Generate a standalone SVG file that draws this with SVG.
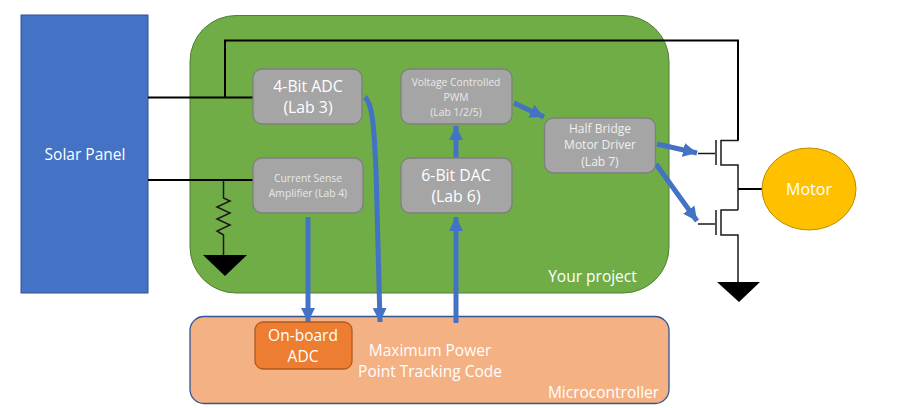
<svg xmlns="http://www.w3.org/2000/svg" width="897" height="408" viewBox="0 0 897 408">
<defs>
<marker id="ah" markerUnits="userSpaceOnUse" markerWidth="15" markerHeight="15" refX="14" refY="7.500" orient="auto"><path d="M0 0.500L14 7.500L0 14.500Z" fill="#4472c4"/></marker>
</defs>
<style>
text{font-family:"Open Sans","Noto Sans",sans-serif;text-anchor:middle;fill:#fff}
.b{fill:#a5a5a5;stroke:#7f7f7f;stroke-width:1.3}
.w{fill:none;stroke:#000;stroke-width:2}
.t{fill:none;stroke:#1a1a1a;stroke-width:1.5}
.a{fill:none;stroke:#4472c4;stroke-width:5;marker-end:url(#ah)}
.g{fill:#000}
.s{font-size:10.300px;fill:#e8e8e8}
.m{font-size:12px;fill:#f0f0f0}
.l{font-size:15.800px}
</style>
<rect width="897" height="408" fill="#fff"/>
<g id="solar-panel"><rect x="21" y="15" width="127" height="278" fill="#4472c4" stroke="#2f528f"/><text x="85" y="160" font-size="15.500">Solar Panel</text></g>
<g id="project"><rect x="190" y="15.500" width="479" height="277.500" rx="46" fill="#70ad47" stroke="#507e32"/><text x="592.500" y="282" font-size="15.500">Your project</text></g>
<g id="microcontroller"><rect x="190" y="316.500" width="479" height="87" rx="14" fill="#f4b183" stroke="#2f5597" stroke-width="1.300"/><text x="430" y="356" font-size="15.500">Maximum Power</text><text x="430" y="377" font-size="15.500">Point Tracking Code</text><text x="603.500" y="398" font-size="15.500">Microcontroller</text></g>
<g id="connectors">
<path class="w" d="M148 97.500H253M225 97.500V40.500H738V140"/>
<path class="w" d="M148 180H253"/>
<path class="t" d="M223.500 180V198L230 201L217 207L230 213L217 219L230 225L217 231L223.500 235V255"/>
<path class="t" d="M738 140V140.500H721V165H738V210M738 210H721V235H738V282"/>
<path class="t" d="M698 153.500H715M716 140V165M698 224H715M716 210V235"/>
<path class="w" d="M738 189H763"/>
<path class="a" d="M308 217V322"/>
<path class="a" d="M365 97C373 104 374 130 376 170L380 322"/>
<path class="a" d="M456 323V217"/>
<path class="a" d="M456 158V126"/>
<path class="a" d="M514 103L544 117"/>
<path class="a" d="M657 144L697 153"/>
<path class="a" d="M656 164L697 221"/>
</g>
<g id="ground-1"><path class="g" d="M203 255H247L225 276Z"/></g>
<g id="ground-2"><path class="g" d="M717 282H760L739 302Z"/></g>
<g id="adc"><rect class="b" x="253" y="69" width="109" height="55" rx="9"/><text class="l" x="308" y="92">4-Bit ADC</text><text class="l" x="308" y="113">(Lab 3)</text></g>
<g id="pwm"><rect class="b" x="401" y="69" width="111" height="55" rx="9"/><text class="s" x="456" y="86">Voltage Controlled</text><text class="s" x="456" y="101">PWM</text><text class="s" x="456" y="116">(Lab 1/2/5)</text></g>
<g id="sense"><rect class="b" x="253" y="158" width="110" height="55" rx="9"/><text class="s" x="308" y="182">Current Sense</text><text class="s" x="308" y="197">Amplifier (Lab 4)</text></g>
<g id="dac"><rect class="b" x="401" y="158" width="111" height="55" rx="9"/><text class="l" x="456" y="181">6-Bit DAC</text><text class="l" x="456" y="202">(Lab 6)</text></g>
<g id="driver"><rect class="b" x="544.500" y="118" width="111" height="55" rx="9"/><text class="m" x="600" y="133">Half Bridge</text><text class="m" x="600" y="149">Motor Driver</text><text class="m" x="600" y="166">(Lab 7)</text></g>
<g id="onboard-adc"><rect x="255" y="322" width="97" height="47" rx="8" fill="#ed7d31" stroke="#ae5a21" stroke-width="1.300"/><text x="303" y="341" font-size="15.500">On-board</text><text x="303" y="362" font-size="15.500">ADC</text></g>
<g id="motor"><ellipse cx="809" cy="189" rx="47" ry="41" fill="#ffc000" stroke="#bc8c00"/><text x="809" y="195" font-size="16">Motor</text></g>
</svg>
